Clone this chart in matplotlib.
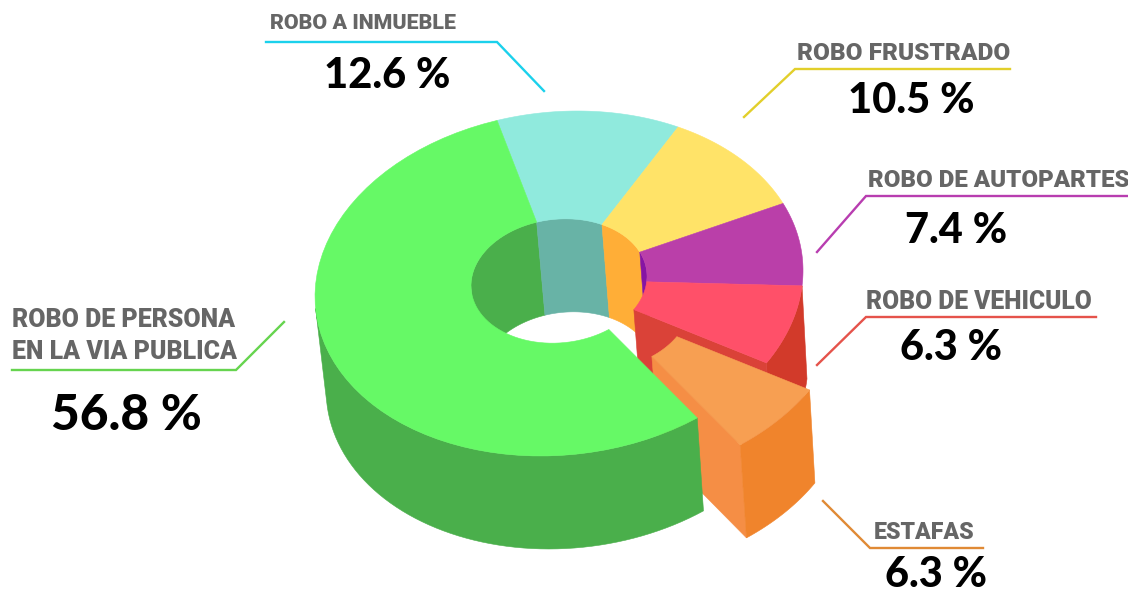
import numpy as np
import matplotlib
matplotlib.use('Agg')
import matplotlib.pyplot as plt
from matplotlib.patches import Polygon

# slices, green one first, the rest clockwise from the top of the ring
categories = ['ROBO DE PERSONA\nEN LA VIA PUBLICA', 'ROBO A INMUEBLE', 'ROBO FRUSTRADO',
              'ROBO DE AUTOPARTES', 'ROBO DE VEHICULO', 'ESTAFAS']
printed_values = ['56.8 %', '12.6 %', '10.5 %', '7.4 %', '6.3 %', '6.3 %']
# size of each slice as it is drawn, the picture does not follow its own labels exactly
drawn_shares = [55.5, 12.2, 10.4, 7.9, 7.4, 6.6]

top_colors = ['#66F966', '#90EADD', '#FFE368', '#BA3FA9', '#FF5069', '#F79F52']
wall_colors = ['#4AAF4B', '#68B3A6', '#FFAE37', '#8615A3', '#D23A2A', '#F0842C']
line_colors = ['#66D44F', '#1BD1EC', '#E2CF2B', '#B83DB0', '#E5534B', '#E08A35']

START = 104.7
CX = 559
OUTER = (244, 172, 13, 283.5)   # rx, ry, tilt, cy
INNER = (88, 62, 4.7, 281)
DEPTH = 93
EXPLODE = np.array([43, 27])


def arc(ring, t0, t1, n=60):
    rx, ry, tilt, cy = ring
    t = np.radians(np.linspace(t0, t1, n))
    return np.column_stack([CX + rx*np.cos(t), cy - ry*np.sin(t) - tilt*np.cos(t)])


def drop(pts):
    # lower rim of the ring, a little narrower than the top because of the perspective
    return np.column_stack([pts[:, 0] + 8 - 0.0125*(pts[:, 0] - CX), pts[:, 1] + DEPTH])


def add(ax, pts, color):
    ax.add_patch(Polygon(pts, closed=True, facecolor=color, edgecolor=color, linewidth=0.4))


def top_face(t0, t1):
    return np.vstack([arc(OUTER, t0, t1), arc(INNER, t1, t0)])


def wall(ring, t0, t1):
    a = arc(ring, t0, t1)
    return np.vstack([a, drop(a)[::-1]])


def cut_face(t):
    a = arc(OUTER, t, t, 1)
    b = arc(INNER, t, t, 1)
    return np.vstack([b, a, drop(a), drop(b)])


# angle limits of every slice
edges = START - 3.6*np.concatenate([[0], np.cumsum(drawn_shares[1:])])
green = (START, edges[-1] + 360)
teal = (edges[0], edges[1])
yellow = (edges[1], edges[2])
purple = (edges[2], edges[3])
red = (edges[3], edges[4])
orange = (edges[4], edges[5])

fig = plt.figure(figsize=(11.28, 5.92), dpi=100)
ax = fig.add_axes([0, 0, 1, 1])
ax.set_xlim(0, 1128)
ax.set_ylim(592, 0)
ax.axis('off')

# far side of the hole
add(ax, wall(INNER, green[0], 180), wall_colors[0])
add(ax, wall(INNER, *teal), wall_colors[1])
add(ax, wall(INNER, *yellow), wall_colors[2])
add(ax, wall(INNER, *purple), wall_colors[3])

# red sides, then the tops behind the green slice
add(ax, wall(OUTER, *red), wall_colors[4])
add(ax, cut_face(red[1]), '#DA4238')
add(ax, top_face(*teal), top_colors[1])
add(ax, top_face(*yellow), top_colors[2])
add(ax, top_face(*purple), top_colors[3])
add(ax, top_face(*red), top_colors[4])

# cut side of the loose slice sits behind the green one
add(ax, cut_face(orange[1]) + EXPLODE, '#F58E45')

add(ax, wall(OUTER, 184, green[1]), wall_colors[0])
add(ax, top_face(*green), top_colors[0])

add(ax, wall(OUTER, *orange) + EXPLODE, wall_colors[5])
add(ax, top_face(*orange) + EXPLODE, top_colors[5])

# leader lines
leaders = [
    [(284, 322), (236, 370), (12, 370)],
    [(266, 42), (497, 42), (544, 91)],
    [(1010, 69), (795, 69), (744, 117)],
    [(1128, 196), (866, 196), (817, 252)],
    [(1096, 317), (866, 317), (817, 365)],
    [(983, 548), (870, 548), (823, 501)],
]
for path, c in zip(leaders, line_colors):
    xs, ys = zip(*path)
    ax.plot(xs, ys, color=c, linewidth=1.7, solid_joinstyle='miter')

# x, lower edge of the label and baseline of the number
label_pos = [(12, 364), (270, 33), (797, 65), (868, 192), (866, 314), (874, 544)]
value_pos = [(126, 430), (387, 88), (911, 113), (956, 243), (951, 360), (936, 587)]
label_size = [17.9, 15.4, 17.6, 17.4, 17.7, 16.7]

for i in range(len(categories)):
    ax.text(label_pos[i][0], label_pos[i][1], categories[i], color='#666666', fontsize=label_size[i],
            family='Roboto', weight='black', ha='left', va='bottom', linespacing=1.42)
    size = 35.7 if i == 0 else 30
    ax.text(value_pos[i][0], value_pos[i][1], printed_values[i], color='black', fontsize=size,
            family='Lato', weight='black', ha='center', va='baseline')

fig.savefig('out.png', dpi=100)
